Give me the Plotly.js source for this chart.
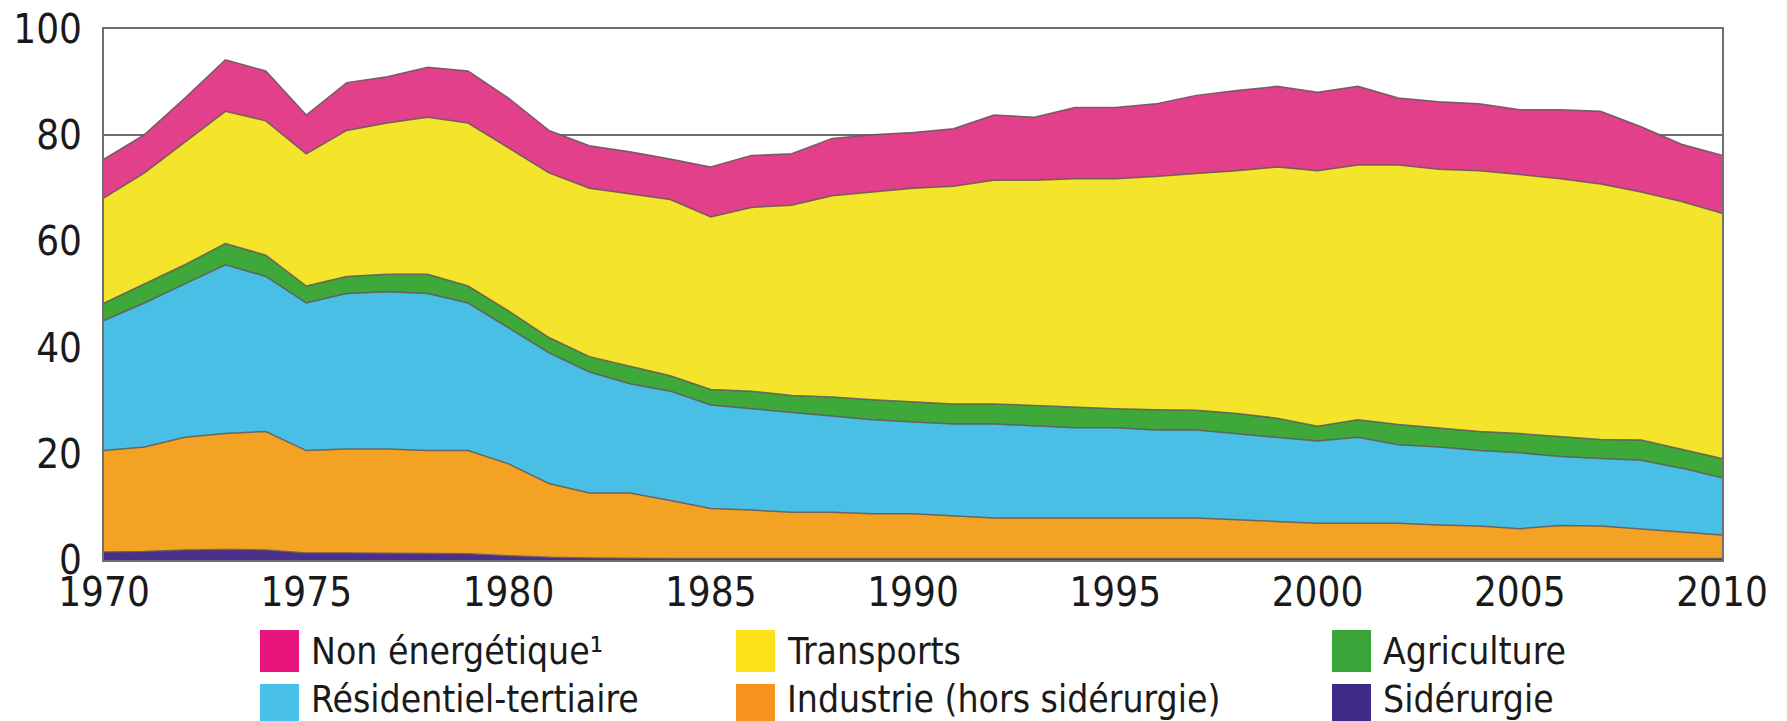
<!DOCTYPE html>
<html><head><meta charset="utf-8">
<script src="https://cdn.plot.ly/plotly-3.0.1.min.js"></script>
<style>html,body{margin:0;padding:0;background:#fff;}#chart{width:1787px;height:721px;}</style>
</head><body><div id="chart"></div>
<script>
const years = [1970,1971,1972,1973,1974,1975,1976,1977,1978,1979,1980,1981,1982,1983,1984,1985,1986,1987,1988,1989,1990,1991,1992,1993,1994,1995,1996,1997,1998,1999,2000,2001,2002,2003,2004,2005,2006,2007,2008,2009,2010];
const siderurgie = [1.5,1.6,1.9,2.0,1.9,1.3,1.3,1.3,1.3,1.2,0.8,0.5,0.4,0.3,0.3,0.3,0.3,0.3,0.3,0.3,0.3,0.3,0.3,0.3,0.3,0.3,0.3,0.3,0.3,0.3,0.3,0.3,0.3,0.3,0.3,0.3,0.3,0.3,0.3,0.3,0.3];
const industrie = [19.1,19.7,21.2,21.8,22.3,19.3,19.6,19.6,19.3,19.4,17.3,13.9,12.2,12.3,10.9,9.4,9.1,8.7,8.7,8.4,8.4,8.0,7.6,7.6,7.6,7.6,7.6,7.6,7.3,6.9,6.6,6.6,6.6,6.3,6.1,5.6,6.2,6.1,5.5,4.9,4.4];
const residentiel = [24.5,27.1,28.9,31.8,29.2,27.8,29.3,29.6,29.6,27.8,25.6,24.6,22.8,20.6,20.6,19.5,19.1,18.8,18.1,17.7,17.3,17.3,17.7,17.4,17.0,17.0,16.6,16.6,16.2,15.9,15.5,16.2,14.8,14.7,14.2,14.3,13.0,12.7,13.0,12.1,10.8];
const agriculture = [3.3,3.6,3.6,4.0,4.0,3.2,3.2,3.3,3.6,3.2,3.2,2.9,2.9,3.3,2.9,2.9,3.3,3.2,3.6,3.8,3.8,3.8,3.8,3.8,3.8,3.6,3.8,3.7,3.8,3.6,2.8,3.3,3.8,3.6,3.6,3.6,3.8,3.6,3.8,3.6,3.6];
const transports = [19.8,20.9,23.1,24.9,25.3,24.9,27.5,28.5,29.6,30.7,30.7,31.0,31.7,32.5,33.2,32.5,34.6,35.8,37.9,39.1,40.2,41.0,42.1,42.4,43.1,43.3,43.9,44.6,45.7,47.3,48.1,48.0,48.9,48.7,49.1,48.8,48.5,48.1,46.7,46.6,46.2];
const nonEnergetique = [7.3,7.2,8.3,9.7,9.4,7.3,9.0,8.7,9.4,9.8,9.4,8.0,8.0,7.9,7.6,9.4,9.8,9.7,10.8,10.8,10.5,10.8,12.3,11.9,13.4,13.4,13.7,14.7,15.1,15.2,14.8,14.8,12.6,12.7,12.6,12.2,13.0,13.7,12.3,10.8,10.9];

const seriesNames = ['Sidérurgie','Industrie (hors sidérurgie)','Résidentiel-tertiaire','Agriculture','Transports','Non énergétique¹'];
const seriesValues = [siderurgie, industrie, residentiel, agriculture, transports, nonEnergetique];
const fillColors = ['#4a2f8c','#f4a223','#4abfe6','#3ea83a','#f4e42c','#e2408a'];
const swatchColors = ['#3f2a88','#f7941d','#47bfe8','#3aa53a','#fde21a','#e8157c'];
const xTicks = [1970,1975,1980,1985,1990,1995,2000,2005,2010];
const yTicks = [0,20,40,60,80,100];

// legend layout: [series index, column x (px), row]
const legendSlots = [[5,260,0],[2,260,1],[4,736,0],[1,736,1],[3,1332,0],[0,1332,1]];

const W = 1787, H = 721, L = 104, R = 65, T = 29, B = 161;
const pw = W - L - R, ph = H - T - B;
const px = v => (v - L) / pw;
const py = v => (H - B - v) / ph;

const FONT = 'Liberation Sans Narrow, DejaVu Sans Condensed, Liberation Sans, sans-serif';

const traces = seriesValues.map((vals, i) => ({
  type: 'scatter', x: years, y: vals, name: seriesNames[i],
  stackgroup: 'one', mode: 'lines',
  line: {color: 'rgba(95,85,85,0.85)', width: 1.5},
  fillcolor: fillColors[i], hoverinfo: 'x+y+name'
}));

const shapes = [], annotations = [];
const rowTop = [630, 684], rowH = [42, 40], textY = [651, 699];
legendSlots.forEach(([si, x, row]) => {
  shapes.push({type: 'rect', xref: 'paper', yref: 'paper',
    x0: px(x), x1: px(x + 39), y0: py(rowTop[row]), y1: py(rowTop[row] + rowH[row]),
    fillcolor: swatchColors[si], line: {width: 0}});
  annotations.push({xref: 'paper', yref: 'paper', x: px(x + 49), y: py(textY[row]),
    xanchor: 'left', yanchor: 'middle', showarrow: false, text: seriesNames[si],
    font: {family: FONT, size: 37, color: '#1a1a1a'}});
});

const layout = {
  width: W, height: H, margin: {l: L, r: R, t: T, b: B},
  paper_bgcolor: '#fff', plot_bgcolor: '#fff', showlegend: false,
  font: {family: FONT, size: 40, color: '#1a1a1a'},
  xaxis: {range: [1970, 2010], tickvals: xTicks, ticktext: xTicks.map(String),
    showgrid: false, zeroline: false, showline: true, mirror: true,
    linecolor: '#707070', linewidth: 2, ticks: '', ticklabelstandoff: -4,
    tickfont: {family: FONT, size: 40, color: '#1a1a1a'}},
  yaxis: {range: [0, 100], tickvals: yTicks, ticktext: yTicks.map(String),
    showgrid: true, gridcolor: '#707070', gridwidth: 2, zeroline: false,
    showline: true, mirror: true, linecolor: '#707070', linewidth: 2,
    ticks: '', ticklabelstandoff: 12,
    tickfont: {family: FONT, size: 40, color: '#1a1a1a'}},
  shapes: shapes, annotations: annotations
};

Plotly.newPlot('chart', traces, layout, {staticPlot: true, displayModeBar: false});
</script></body></html>
